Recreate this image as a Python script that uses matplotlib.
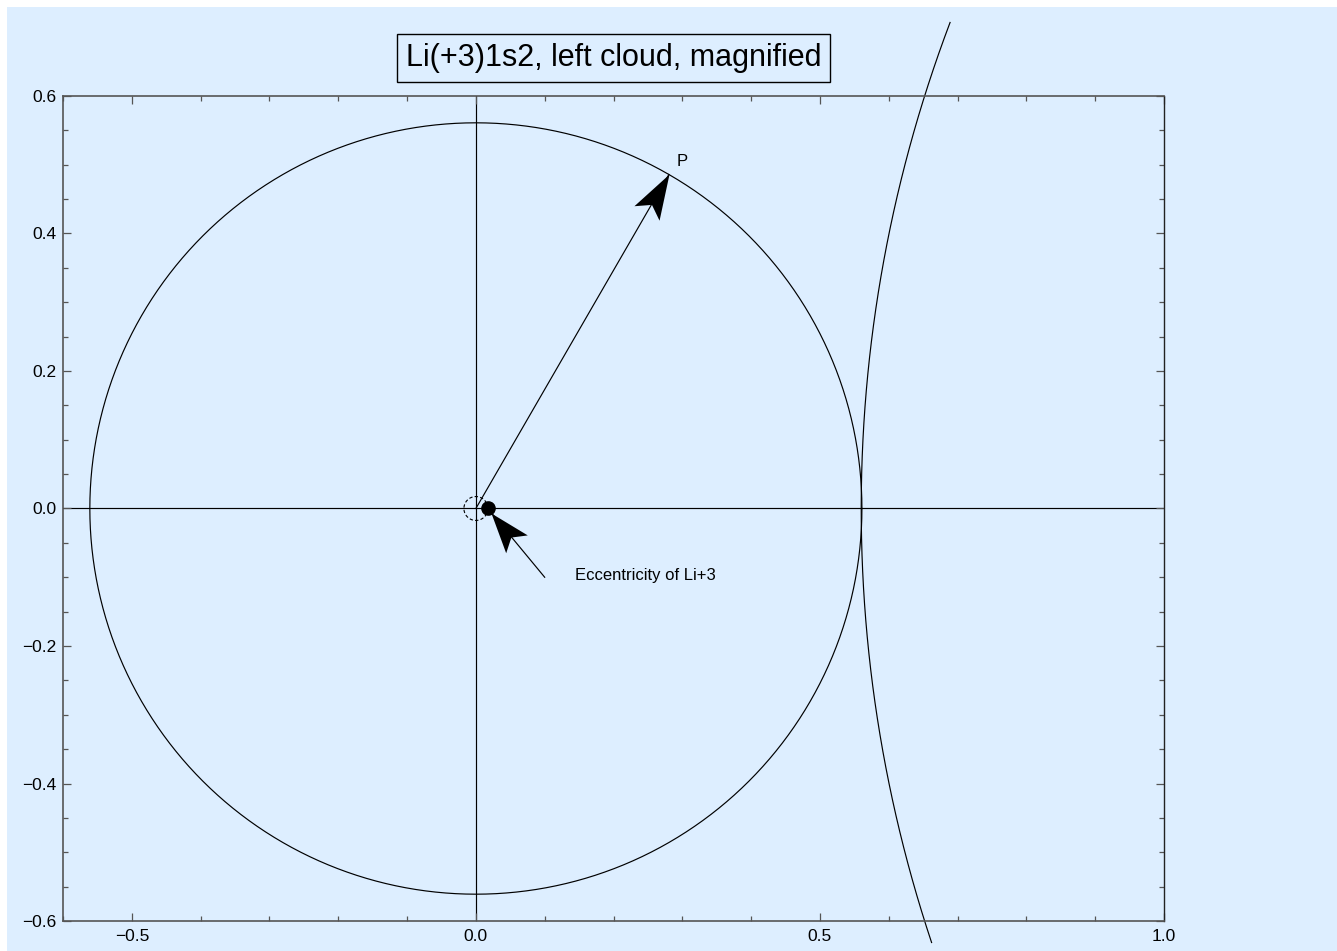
import numpy as np
import matplotlib
matplotlib.use("Agg")
import matplotlib.pyplot as plt
from matplotlib.patches import Rectangle
from matplotlib.path import Path
from matplotlib.markers import MarkerStyle
from matplotlib.transforms import Affine2D
from matplotlib.ticker import MultipleLocator, FuncFormatter

plt.rcParams['font.family'] = ['Liberation Sans', 'DejaVu Sans']

# --- geometry of the picture -------------------------------------------
title = "Li(+3)1s2, left cloud, magnified"
cloud_radius = 0.561            # radius of the left 1s2 cloud
eccentricity = 0.0174           # offset of the Li+3 nucleus from the cloud centre
point_angle_deg = 60.0          # direction of the point P on the cloud
point_label = "P"
point_label_pos = (0.300, 0.505)
ecc_label = "Eccentricity of Li+3"
ecc_arrow_tail = (0.100, -0.100)
ecc_label_pos = (0.144, -0.097)
right_arc_center = (2.56, 0.0)  # neighbouring cloud
right_arc_radius = 2.0
right_arc_span_deg = (159.3, 198.4)

xlim = (-0.6, 1.0)
ylim = (-0.6, 0.6)
x_major, x_minor = 0.5, 0.1
y_major, y_minor = 0.2, 0.05

bg = '#ddeeff'
W, H = 1337, 951

fig = plt.figure(figsize=(W / 100, H / 100), dpi=100, facecolor='white')
fig.patches.append(Rectangle((7 / W, 0), 1 - 7 / W, 1 - 7 / H,
                             transform=fig.transFigure, facecolor=bg,
                             edgecolor='none', zorder=-10))

ax = fig.add_axes([63 / W, 30 / H, 1101 / W, 825 / H])
ax.set_facecolor(bg)
ax.set_xlim(*xlim)
ax.set_ylim(*ylim)

lw = 0.85

# coordinate axes through the origin
ax.axhline(0, color='black', lw=lw, zorder=1)
ax.axvline(0, color='black', lw=lw, zorder=1)

# left cloud
t = np.linspace(0, 2 * np.pi, 721)
ax.plot(cloud_radius * np.cos(t), cloud_radius * np.sin(t), color='black', lw=lw)

# neighbouring cloud arc (extends past the frame)
ta = np.radians(np.linspace(*right_arc_span_deg, 400))
ax.plot(right_arc_center[0] + right_arc_radius * np.cos(ta),
        right_arc_center[1] + right_arc_radius * np.sin(ta),
        color='black', lw=lw, clip_on=False)

# small dashed circle of radius = eccentricity, and the nucleus
ax.plot(eccentricity * np.cos(t), eccentricity * np.sin(t), color='black',
        lw=0.8, ls=(0, (3, 2)))
ax.plot([eccentricity], [0], 'o', color='black', ms=9.5, zorder=5)


def arrow_head(angle_deg, length_px, half_width_px, notch=0.78):
    """Swept-back filled arrowhead marker, tip at the marker origin."""
    hw = half_width_px / length_px
    verts = [(0, 0), (-1, hw), (-notch, 0), (-1, -hw), (0, 0)]
    codes = [Path.MOVETO, Path.LINETO, Path.LINETO, Path.LINETO, Path.CLOSEPOLY]
    m = MarkerStyle(Path(verts, codes), transform=Affine2D().rotate_deg(angle_deg))
    ms = 2 * length_px * 72 / 100
    return m, ms


# radius vector to P
px = cloud_radius * np.cos(np.radians(point_angle_deg))
py = cloud_radius * np.sin(np.radians(point_angle_deg))
ax.plot([0, px], [0, py], color='black', lw=lw, zorder=4)
m, ms = arrow_head(point_angle_deg, 45, 14.5)
ax.plot([px], [py], marker=m, ms=ms, color='black', mec='none', zorder=6)
ax.text(*point_label_pos, point_label, fontsize=12, ha='center', va='center')

# arrow pointing at the nucleus
dx = ecc_arrow_tail[0] - eccentricity
dy = ecc_arrow_tail[1]
dist = np.hypot(dx, dy)
dot_r = 0.0077
tip = (eccentricity + dx / dist * dot_r, dy / dist * dot_r)
ang = np.degrees(np.arctan2(tip[1] - ecc_arrow_tail[1], tip[0] - ecc_arrow_tail[0]))
ax.plot([ecc_arrow_tail[0], tip[0]], [ecc_arrow_tail[1], tip[1]],
        color='black', lw=lw, zorder=4)
m2, ms2 = arrow_head(ang, 40, 14)
ax.plot([tip[0]], [tip[1]], marker=m2, ms=ms2, color='black', mec='none', zorder=6)
ax.text(*ecc_label_pos, ecc_label, fontsize=12, ha='left', va='center')

# frame and ticks
fmt = FuncFormatter(lambda v, _: f"{v:.1f}".replace('-', '\u2212'))
ax.xaxis.set_major_locator(MultipleLocator(x_major))
ax.xaxis.set_minor_locator(MultipleLocator(x_minor))
ax.yaxis.set_major_locator(MultipleLocator(y_major))
ax.yaxis.set_minor_locator(MultipleLocator(y_minor))
ax.xaxis.set_major_formatter(fmt)
ax.yaxis.set_major_formatter(fmt)
ax.tick_params(which='both', direction='in', top=True, right=True,
               color='#555555', width=0.9, labelsize=12.5)
ax.tick_params(which='major', length=5.8)
ax.tick_params(which='minor', length=3.4)
ax.tick_params(axis='x', pad=5.5)
ax.tick_params(axis='y', pad=4.5)
for side in ('left', 'bottom', 'top'):
    ax.spines[side].set_color('#555555')
    ax.spines[side].set_linewidth(1.2)
ax.spines['right'].set_color('#222222')
ax.spines['right'].set_linewidth(1.0)

# framed title
fig.text((63 + 1101 / 2) / W, 1 - 58 / H, title, fontsize=22, ha='center',
         va='center', bbox=dict(boxstyle='square,pad=0.3', facecolor='none',
                                edgecolor='black', linewidth=1.0))

fig.savefig('out.png', dpi=100, facecolor=fig.get_facecolor())
